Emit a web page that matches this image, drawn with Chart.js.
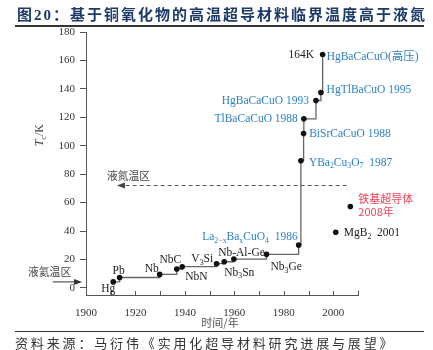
<!DOCTYPE html>
<html>
<head>
<meta charset="utf-8">
<script src="https://cdn.jsdelivr.net/npm/chart.js@4.4.1/dist/chart.umd.min.js"></script>
<style>
    html, body { margin: 0; padding: 0; background: #fff; }
    #wrap { position: relative; width: 433px; height: 350px; overflow: hidden; }
    #title { position: absolute; left: 17px; top: 3px; font: bold 15px "Liberation Serif", "Noto Sans CJK SC"; letter-spacing: 2px; color: #1c3a68; white-space: nowrap; }
    #tline { position: absolute; left: 15px; top: 25px; width: 409px; height: 2px; background: #333; }
    #fline { position: absolute; left: 15px; top: 331px; width: 409px; height: 1px; background: #333; }
    #src { position: absolute; left: 15px; top: 333px; font: 13px "Noto Sans CJK SC"; letter-spacing: 2.85px; color: #333; white-space: nowrap; }
    canvas { position: absolute; left: 0; top: 0; }
</style>
</head>
<body>
<div id="wrap">
    <canvas id="tc_chart" width="433" height="350"></canvas>
    <div id="title">图20：基于铜氧化物的高温超导材料临界温度高于液氮</div>
    <div id="tline"></div>
    <div id="fline"></div>
    <div id="src">资料来源：马衍伟《实用化超导材料研究进展与展望》</div>
</div>
<script>
// main record line (year, Tc in K)
const years = [1911, 1913.6, 1929.8, 1936.7, 1938.9, 1952.8, 1955.9, 1959.8, 1973.0, 1986.0, 1986.9, 1988.0, 1988.1, 1993.0, 1995.0, 1995.7];
const tc = [4.2, 7.3, 9.5, 13.3, 14.9, 17.0, 18.4, 20.3, 23.6, 30.1, 89.4, 108.6, 118.9, 131.8, 137.4, 164.2];
const names = ['Hg', 'Pb', 'Nb', 'NbC', 'NbN', 'V_3Si', 'Nb_3Sn', 'Nb-Al-Ge', 'Nb_3Ge',
    'La_{2−x}Ba_xCuO_4  1986', 'YBa_2Cu_3O_7  1987', 'BiSrCaCuO 1988', 'TlBaCaCuO 1988',
    'HgBaCaCuO 1993', 'HgTlBaCuO 1995', 'HgBaCaCuO(高压)'];

// separate points
const otherYears = [2001.0, 2006.9];
const otherTc = [39.1, 57.3];
const otherNames = ['MgB_2  2001', '铁基超导体\n2008年'];

// reference levels
const nitrogenLevel = 72;
const nitrogenSpan = [2005.4, 1912.5];
const heliumLevel = 4.2;
const heliumSpan = [1886.5, 1898.4];

const xTickValues = [1900, 1910, 1920, 1930, 1940, 1950, 1960, 1970, 1980, 1990, 2000, 2010];
const xTickLabels = [1900, 1920, 1940, 1960, 1980, 2000];
const yTickValues = [0, 20, 40, 60, 80, 100, 120, 140, 160, 180];

const BLACK = '#222';
const BLUE = '#2f80c4';
const RED = '#ee4256';
const SERIF = '"Liberation Serif", "Noto Sans CJK SC"';
const CJK = '"Noto Sans CJK SC"';

// label placement, pixel offsets from each point
const labelPos = [
    { dx: -5, dy: 7, align: 'center', color: BLACK },
    { dx: -1, dy: -7, align: 'center', color: BLACK },
    { dx: -1, dy: -5, align: 'right', color: BLACK },
    { dx: -6.5, dy: -9, align: 'center', color: BLACK },
    { dx: 3, dy: 10.5, align: 'left', color: BLACK },
    { dx: -3.4, dy: -4.7, align: 'right', color: BLACK },
    { dx: 0, dy: 11, align: 'left', color: BLACK },
    { dx: -15.7, dy: -5.7, align: 'left', color: BLACK },
    { dx: 4, dy: 12.7, align: 'left', color: BLACK },
    { dx: -1, dy: -7.7, align: 'right', color: BLUE },
    { dx: 8, dy: 2, align: 'left', color: BLUE },
    { dx: 5.6, dy: 0.4, align: 'left', color: BLUE },
    { dx: -6, dy: 0.3, align: 'right', color: BLUE },
    { dx: -7, dy: 0.7, align: 'right', color: BLUE },
    { dx: 5.7, dy: -3, align: 'left', color: BLUE },
    { dx: 4, dy: 2.4, align: 'left', color: BLUE }
];
const otherLabelPos = [
    { dx: 8, dy: 1, align: 'left', color: BLACK, font: SERIF },
    { dx: 8, dy: -7.3, align: 'left', color: RED, font: CJK }
];

function drawRich(ctx, str, x, y, size, align, color, family) {
    const parts = [];
    const re = /_\{([^}]*)\}|_(.)/g;
    let last = 0, m;
    while ((m = re.exec(str))) {
        if (m.index > last) parts.push({ t: str.slice(last, m.index), sub: false });
        parts.push({ t: m[1] !== undefined ? m[1] : m[2], sub: true });
        last = re.lastIndex;
    }
    if (last < str.length) parts.push({ t: str.slice(last), sub: false });
    let w = 0;
    parts.forEach((p) => {
        ctx.font = (p.sub ? size * 0.68 : size) + 'px ' + family;
        p.w = ctx.measureText(p.t).width;
        w += p.w;
    });
    let cx = align === 'right' ? x - w : align === 'center' ? x - w / 2 : x;
    ctx.fillStyle = color;
    ctx.textAlign = 'left';
    ctx.textBaseline = 'middle';
    parts.forEach((p) => {
        ctx.font = (p.sub ? size * 0.68 : size) + 'px ' + family;
        ctx.fillText(p.t, cx, p.sub ? y + size * 0.3 : y);
        cx += p.w;
    });
}

function arrowHead(ctx, x, y, dir) {
    ctx.beginPath();
    ctx.moveTo(x, y);
    ctx.lineTo(x - dir * 8, y - 3);
    ctx.lineTo(x - dir * 8, y + 3);
    ctx.closePath();
    ctx.fill();
}

const annotations = {
    id: 'annotations',
    afterDatasetsDraw(chart) {
        const ctx = chart.ctx;
        const xs = chart.scales.x;
        const ys = chart.scales.y;
        const area = chart.chartArea;
        ctx.save();

        // inward x ticks
        ctx.strokeStyle = '#555';
        ctx.lineWidth = 1;
        xs.ticks.forEach((t) => {
            const px = Math.round(xs.getPixelForValue(t.value)) + 0.5;
            ctx.beginPath();
            ctx.moveTo(px, area.bottom);
            ctx.lineTo(px, area.bottom - 4);
            ctx.stroke();
        });

        // liquid nitrogen dashed arrow
        const ny = ys.getPixelForValue(nitrogenLevel);
        const nx0 = xs.getPixelForValue(nitrogenSpan[0]);
        const nx1 = xs.getPixelForValue(nitrogenSpan[1]);
        ctx.strokeStyle = '#555';
        ctx.fillStyle = '#444';
        ctx.setLineDash([4, 3]);
        ctx.beginPath();
        ctx.moveTo(nx0, ny);
        ctx.lineTo(nx1 + 6, ny);
        ctx.stroke();
        ctx.setLineDash([]);
        arrowHead(ctx, nx1, ny, -1);
        drawRich(ctx, '液氮温区', nx1 - 10, ny - 10, 10.8, 'left', '#444', CJK);

        // liquid helium arrow
        const hy = ys.getPixelForValue(heliumLevel);
        const hx0 = xs.getPixelForValue(heliumSpan[0]);
        const hx1 = xs.getPixelForValue(heliumSpan[1]);
        ctx.strokeStyle = '#333';
        ctx.fillStyle = '#333';
        ctx.beginPath();
        ctx.moveTo(hx0, hy);
        ctx.lineTo(hx1 - 6, hy);
        ctx.stroke();
        arrowHead(ctx, hx1, hy, 1);
        drawRich(ctx, '液氦温区', hx0 - 3, hy - 10, 10.8, 'center', '#444', CJK);

        // record labels
        names.forEach((name, i) => {
            const px = xs.getPixelForValue(years[i]);
            const py = ys.getPixelForValue(tc[i]);
            const s = labelPos[i];
            drawRich(ctx, name, px + s.dx, py + s.dy, 11.5, s.align, s.color, SERIF);
        });
        const topIdx = tc.length - 1;
        drawRich(ctx, Math.round(tc[topIdx]) + 'K', xs.getPixelForValue(years[topIdx]) - 8.5,
            ys.getPixelForValue(tc[topIdx]) + 1, 11.5, 'right', BLACK, SERIF);

        otherNames.forEach((name, i) => {
            const px = xs.getPixelForValue(otherYears[i]);
            const py = ys.getPixelForValue(otherTc[i]);
            const s = otherLabelPos[i];
            name.split('\n').forEach((line, k) => {
                drawRich(ctx, line, px + s.dx, py + s.dy + k * 12.3, s.font === CJK ? 11 : 11.5, s.align, s.color, s.font);
            });
        });

        // axis titles
        drawRich(ctx, '时间/年', (area.left + area.right) / 2 - 2, 323, 11, 'center', '#555', CJK);
        ctx.translate(40, 132);
        ctx.rotate(-Math.PI / 2);
        ctx.font = 'italic 12px "Liberation Serif"';
        const tw = ctx.measureText('T').width;
        ctx.fillStyle = '#444';
        ctx.textAlign = 'left';
        ctx.textBaseline = 'middle';
        const total = tw + 5 + 17;
        ctx.fillText('T', -total / 2, 0);
        drawRich(ctx, '_c/K', -total / 2 + tw, 0, 12, 'left', '#444', SERIF);
        ctx.restore();
    }
};

const lineData = years.map((y, i) => ({ x: y, y: tc[i] }));
const otherData = otherYears.map((y, i) => ({ x: y, y: otherTc[i] }));

const config = {
    type: 'scatter',
    data: {
        datasets: [{
            data: lineData,
            showLine: true,
            stepped: true,
            borderColor: '#666',
            borderWidth: 1.3,
            pointRadius: 2.8,
            pointBackgroundColor: '#111',
            pointBorderWidth: 0
        }, {
            data: otherData,
            pointRadius: 2.8,
            pointBackgroundColor: '#111',
            pointBorderWidth: 0
        }]
    },
    options: {
        responsive: false,
        animation: false,
        layout: { padding: { top: 32, right: 75, left: 0, bottom: 0 } },
        plugins: { legend: { display: false }, tooltip: { enabled: false } },
        scales: {
            x: {
                type: 'linear',
                min: 1900,
                max: 2010,
                afterBuildTicks: (s) => { s.ticks = xTickValues.map((v) => ({ value: v })); },
                afterFit: (s) => { s.height = 55; },
                grid: { display: false },
                border: { display: true, color: '#555', width: 1 },
                ticks: {
                    padding: 4,
                    color: '#333',
                    font: { family: 'Liberation Serif', size: 11 },
                    maxRotation: 0,
                    autoSkip: false,
                    callback: (v) => xTickLabels.includes(v) ? String(v) : ''
                }
            },
            y: {
                type: 'linear',
                min: -5,
                max: 180,
                afterBuildTicks: (s) => { s.ticks = yTickValues.map((v) => ({ value: v })); },
                afterFit: (s) => { s.width = 86; },
                grid: { display: true, drawOnChartArea: false, drawTicks: true, tickLength: 6, color: '#555' },
                border: { display: true, color: '#555', width: 1 },
                ticks: {
                    padding: 5,
                    color: '#333',
                    font: { family: 'Liberation Serif', size: 11 },
                    autoSkip: false
                }
            }
        }
    },
    plugins: [annotations]
};

new Chart(document.getElementById('tc_chart'), config);
</script>
</body>
</html>
